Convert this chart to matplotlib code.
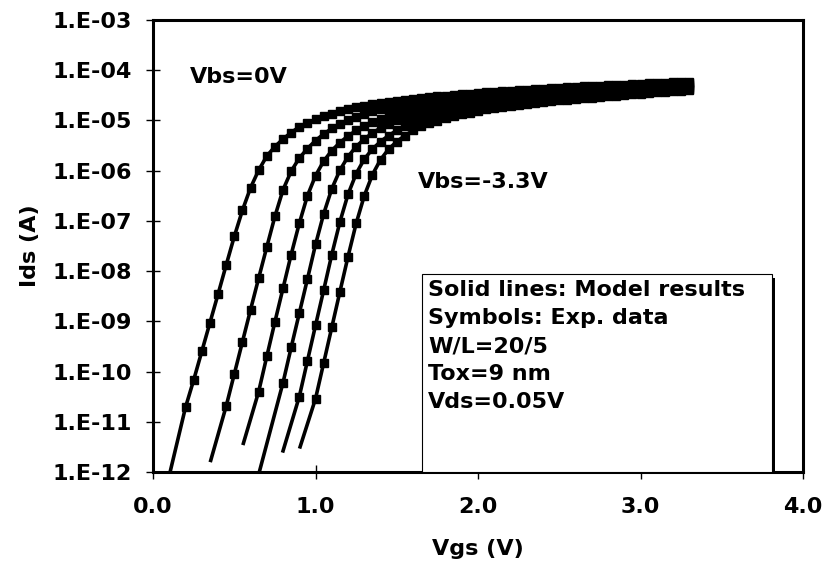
import matplotlib.pyplot as plt
import numpy as np
from matplotlib.patches import Rectangle

plt.rcParams["font.family"] = ["DejaVu Sans"]
plt.rcParams["font.weight"] = "bold"
plt.rcParams["font.size"] = 16

# measured sweep: Vgs step and first measured Vgs of each curve (Vbs = 0 ... -3.3 V)
vgs_step = 0.05
exp_vgs_start = [0.20, 0.45, 0.65, 0.80, 0.90, 1.00]

# log10(Ids) of the measured points (symbols)
exp_log_ids = [
    [-10.71, -10.17, -9.60, -9.03, -8.46, -7.88, -7.31, -6.79, -6.34, -5.99,
     -5.71, -5.52, -5.37, -5.24, -5.13, -5.05, -4.98, -4.92, -4.87, -4.82,
     -4.78, -4.74, -4.71, -4.68, -4.66, -4.63, -4.61, -4.59, -4.57, -4.56,
     -4.54, -4.52, -4.51, -4.49, -4.48, -4.47, -4.45, -4.44, -4.43, -4.42,
     -4.41, -4.40, -4.39, -4.38, -4.37, -4.36, -4.35, -4.34, -4.33, -4.32,
     -4.32, -4.31, -4.30, -4.29, -4.29, -4.28, -4.27, -4.26, -4.26, -4.25,
     -4.24, -4.24, -4.23],
    [-10.69, -10.05, -9.41, -8.77, -8.14, -7.52, -6.91, -6.38, -6.01, -5.75,
     -5.56, -5.40, -5.27, -5.16, -5.07, -4.99, -4.93, -4.87, -4.82, -4.78,
     -4.74, -4.71, -4.68, -4.65, -4.63, -4.61, -4.59, -4.57, -4.55, -4.53,
     -4.52, -4.50, -4.49, -4.47, -4.46, -4.45, -4.43, -4.42, -4.41, -4.40,
     -4.39, -4.38, -4.37, -4.36, -4.35, -4.34, -4.33, -4.33, -4.32, -4.31,
     -4.30, -4.30, -4.29, -4.28, -4.27, -4.27, -4.26, -4.26],
    [-10.40, -9.70, -9.01, -8.34, -7.67, -7.05, -6.50, -6.10, -5.81, -5.60,
     -5.44, -5.31, -5.20, -5.11, -5.03, -4.97, -4.91, -4.86, -4.82, -4.78,
     -4.74, -4.71, -4.68, -4.65, -4.63, -4.61, -4.59, -4.57, -4.55, -4.53,
     -4.52, -4.50, -4.49, -4.47, -4.46, -4.45, -4.43, -4.42, -4.41, -4.40,
     -4.39, -4.38, -4.37, -4.36, -4.35, -4.34, -4.34, -4.33, -4.32, -4.31,
     -4.31, -4.30, -4.29, -4.29],
    [-10.22, -9.52, -8.84, -8.16, -7.47, -6.86, -6.36, -5.99, -5.72, -5.52,
     -5.37, -5.25, -5.15, -5.07, -5.00, -4.94, -4.89, -4.85, -4.81, -4.77,
     -4.74, -4.71, -4.69, -4.66, -4.64, -4.62, -4.60, -4.58, -4.57, -4.55,
     -4.53, -4.52, -4.51, -4.49, -4.48, -4.47, -4.46, -4.44, -4.43, -4.42,
     -4.41, -4.40, -4.39, -4.38, -4.37, -4.37, -4.36, -4.35, -4.34, -4.33,
     -4.33],
    [-10.50, -9.79, -9.08, -8.38, -7.67, -7.02, -6.47, -6.06, -5.77, -5.57,
     -5.42, -5.30, -5.20, -5.12, -5.05, -4.99, -4.94, -4.90, -4.86, -4.82,
     -4.79, -4.76, -4.73, -4.71, -4.68, -4.66, -4.64, -4.62, -4.61, -4.59,
     -4.58, -4.56, -4.55, -4.53, -4.52, -4.51, -4.50, -4.48, -4.47, -4.46,
     -4.45, -4.44, -4.43, -4.42, -4.41, -4.40, -4.39, -4.38, -4.37],
    [-10.54, -9.83, -9.12, -8.41, -7.71, -7.05, -6.50, -6.08, -5.78, -5.57,
     -5.42, -5.30, -5.20, -5.12, -5.06, -5.01, -4.96, -4.92, -4.88, -4.85,
     -4.81, -4.78, -4.76, -4.73, -4.71, -4.69, -4.67, -4.65, -4.63, -4.62,
     -4.60, -4.59, -4.57, -4.56, -4.55, -4.53, -4.52, -4.51, -4.49, -4.48,
     -4.47, -4.46, -4.44, -4.43, -4.42, -4.41, -4.40],
]

# model lines start below the first symbol
model_start_vgs = [0.105, 0.355, 0.556, 0.654, 0.80, 0.905]
model_start_log = [-12.0, -11.77, -11.43, -12.0, -11.58, -11.50]

y_ticks = [1e-12, 1e-11, 1e-10, 1e-9, 1e-8, 1e-7, 1e-6, 1e-5, 1e-4, 1e-3]
y_tick_labels = ["1.E-12", "1.E-11", "1.E-10", "1.E-09", "1.E-08",
                 "1.E-07", "1.E-06", "1.E-05", "1.E-04", "1.E-03"]
x_ticks = [0.0, 1.0, 2.0, 3.0, 4.0]
x_tick_labels = ["0.0", "1.0", "2.0", "3.0", "4.0"]

info_lines = ["Solid lines: Model results", "Symbols: Exp. data",
              "W/L=20/5", "Tox=9 nm", "Vds=0.05V"]

fig = plt.figure(figsize=(8.25, 5.67), dpi=100)
ax = fig.add_axes([0.1855, 0.1676, 0.7879, 0.7971])

for start, logs, m_v, m_log in zip(exp_vgs_start, exp_log_ids,
                                   model_start_vgs, model_start_log):
    vgs = np.round(start + vgs_step * np.arange(len(logs)), 3)
    ids = 10.0 ** np.array(logs)
    line_v = np.concatenate([[m_v], vgs])
    line_i = np.concatenate([[10.0 ** m_log], ids])
    ax.plot(line_v, line_i, color="black", linewidth=2.6, zorder=2)
    ax.plot(vgs, ids, linestyle="none", marker="s", markersize=6,
            color="black", zorder=3)

ax.set_yscale("log")
ax.set_xlim(0, 4)
ax.set_ylim(1e-12, 1e-3)
ax.set_yticks(y_ticks)
ax.set_yticklabels(y_tick_labels)
ax.set_xticks(x_ticks)
ax.set_xticklabels(x_tick_labels)
ax.minorticks_off()
ax.tick_params(direction="inout", length=10, width=1, labelsize=16)
ax.tick_params(axis="y", pad=10)
ax.tick_params(axis="x", pad=13)

for spine in ax.spines.values():
    spine.set_linewidth(2.2)

ax.set_xlabel("Vgs (V)", fontsize=16, fontweight="bold", labelpad=16)
ax.set_ylabel("Ids (A)", fontsize=16, fontweight="bold", labelpad=9)

ax.text(0.057, 0.873, "Vbs=0V", transform=ax.transAxes,
        fontsize=16, fontweight="bold", va="center", ha="left")
ax.text(0.408, 0.642, "Vbs=-3.3V", transform=ax.transAxes,
        fontsize=16, fontweight="bold", va="center", ha="left")

# info box with shadow
shadow = Rectangle((0.419, -0.008), 0.538, 0.438, transform=ax.transAxes,
                   facecolor="black", edgecolor="none", zorder=4)
box = Rectangle((0.414, 0.0), 0.538, 0.438, transform=ax.transAxes,
                facecolor="white", edgecolor="black", linewidth=0.8, zorder=5)
ax.add_patch(shadow)
ax.add_patch(box)
for i, line in enumerate(info_lines):
    ax.text(0.423, 0.403 - i * 0.0623, line, transform=ax.transAxes,
            fontsize=16, fontweight="bold", va="center", ha="left", zorder=6)

fig.savefig("out.png", dpi=100)
